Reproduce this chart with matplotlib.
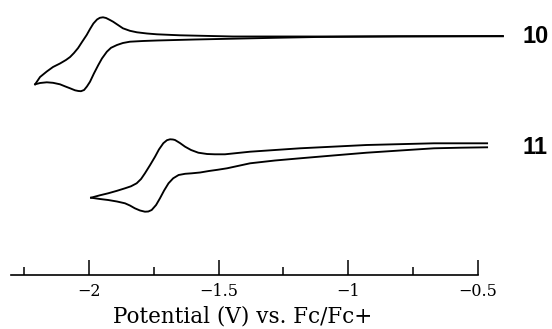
import numpy as np
import matplotlib
matplotlib.use("Agg")
import matplotlib.pyplot as plt

# CV traces: potential (V vs Fc/Fc+) and current (arb. units)
# compound 10, branch going up from the switching point, then the one going down
e10_up = [-2.208, -2.189, -2.163, -2.139, -2.112, -2.089, -2.073, -2.058, -2.042,
          -2.027, -2.009, -1.996, -1.983, -1.969, -1.958, -1.946, -1.934, -1.919,
          -1.907, -1.888, -1.869, -1.842, -1.815, -1.776, -1.738, -1.649, -1.444,
          -1.120, -0.799, -0.402]
i10_up = [-4.83, -4.10, -3.55, -3.10, -2.75, -2.40, -2.10, -1.70, -1.20, -0.60,
          0.10, 0.70, 1.25, 1.65, 1.82, 1.87, 1.80, 1.60, 1.43, 1.10, 0.77, 0.52,
          0.37, 0.25, 0.17, 0.07, -0.05, -0.05, -0.02, 0.0]
e10_dn = [-2.208, -2.189, -2.163, -2.139, -2.112, -2.093, -2.073, -2.054, -2.041,
          -2.031, -2.019, -2.008, -1.996, -1.981, -1.964, -1.950, -1.931, -1.915,
          -1.892, -1.869, -1.842, -1.792, -1.738, -1.591, -1.444, -1.282, -1.120,
          -0.799, -0.402]
i10_dn = [-4.83, -4.70, -4.63, -4.68, -4.83, -5.03, -5.23, -5.43, -5.50, -5.52,
          -5.40, -5.05, -4.57, -3.75, -2.90, -2.25, -1.57, -1.18, -0.90, -0.70,
          -0.57, -0.50, -0.45, -0.35, -0.27, -0.18, -0.10, -0.05, -0.03]

# compound 11
e11_up = [-1.992, -1.958, -1.926, -1.892, -1.861, -1.838, -1.816, -1.799, -1.784,
          -1.764, -1.745, -1.730, -1.713, -1.699, -1.687, -1.676, -1.668, -1.649,
          -1.629, -1.606, -1.578, -1.544, -1.514, -1.475, -1.378, -1.185, -0.928,
          -0.668, -0.463]
i11_up = [-5.44, -5.20, -5.00, -4.75, -4.50, -4.30, -4.00, -3.57, -3.00, -2.17,
          -1.34, -0.62, 0.01, 0.31, 0.40, 0.38, 0.33, 0.03, -0.34, -0.67, -0.94,
          -1.07, -1.10, -1.10, -0.84, -0.50, -0.17, 0.0, 0.0]
e11_dn = [-1.992, -1.958, -1.926, -1.892, -1.861, -1.842, -1.823, -1.803, -1.784,
          -1.771, -1.758, -1.741, -1.726, -1.710, -1.693, -1.675, -1.654, -1.629,
          -1.603, -1.571, -1.537, -1.504, -1.467, -1.378, -1.282, -1.185, -1.058,
          -0.928, -0.799, -0.668, -0.564, -0.463]
i11_dn = [-5.44, -5.57, -5.67, -5.82, -6.00, -6.22, -6.50, -6.72, -6.84, -6.82,
          -6.67, -6.17, -5.50, -4.72, -4.00, -3.50, -3.17, -3.05, -3.00, -2.92,
          -2.77, -2.65, -2.50, -2.00, -1.72, -1.50, -1.22, -0.94, -0.72, -0.50,
          -0.44, -0.40]

offset_11 = -10.73
labels = ["10", "11"]
xticks = [-2, -1.5, -1, -0.5]
xtick_labels = ["\u22122", "\u22121.5", "\u22121", "\u22120.5"]
minor_ticks = [-2.25, -1.75, -1.25, -0.75]

fig = plt.figure(figsize=(5.52, 3.29), dpi=100)
ax = fig.add_axes([0, 54 / 329, 1, 275 / 329])

kw = dict(color="black", lw=1.35, solid_joinstyle="round")
ax.plot(e10_up, i10_up, **kw)
ax.plot(e10_dn, i10_dn, **kw)
ax.plot(e11_up, np.array(i11_up) + offset_11, **kw)
ax.plot(e11_dn, np.array(i11_dn) + offset_11, **kw)

ax.text(-0.274, -0.73, labels[0], fontsize=17, fontweight="bold",
        family="Liberation Sans", ha="center", va="baseline")
ax.text(-0.278, -11.83, labels[1], fontsize=17, fontweight="bold",
        family="Liberation Sans", ha="center", va="baseline")

ax.set_xlim(-2.3436, -0.2124)
ax.set_ylim(-23.9, 3.6)

for s in ["top", "right", "left"]:
    ax.spines[s].set_visible(False)
ax.spines["bottom"].set_bounds(-2.30, -0.5)
ax.spines["bottom"].set_linewidth(1.2)
ax.set_yticks([])
ax.set_xticks(minor_ticks, minor=True)
ax.tick_params(axis="x", which="major", direction="in", length=11, width=1.1, pad=6,
               labelsize=11.5, labelfontfamily="DejaVu Serif")
ax.tick_params(axis="x", which="minor", direction="in", length=6, width=1.1)
ax.set_xticks(xticks, xtick_labels)

ax.set_xlabel("Potential (V) vs. Fc/Fc+", family="DejaVu Serif", fontsize=15.5)
ax.xaxis.set_label_coords(243 / 552, -0.112)

fig.savefig("out.png", dpi=100)
